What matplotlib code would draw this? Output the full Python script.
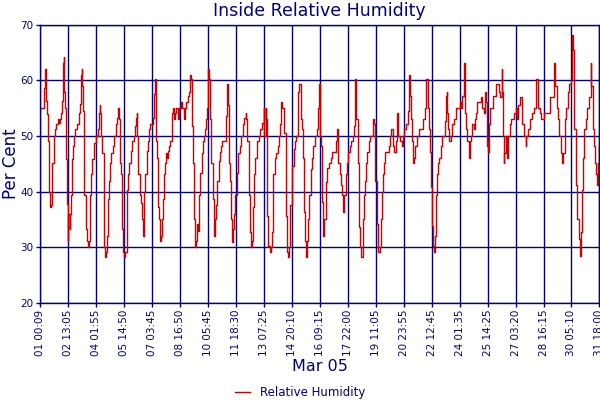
# plot.py
# Inside Relative Humidity, March 05 (per cent), one line against day-of-month
# ─────────────────────────────────────────────────────────────

import matplotlib
matplotlib.use("Agg")
import matplotlib.pyplot as plt

# ─────────────────────────────────────────────────────────────
# DATA  (day of month as fraction, humidity in %)
# ─────────────────────────────────────────────────────────────
days = [
    1.01, 1.02, 1.17, 1.19, 1.23, 1.26, 1.30, 1.34, 1.39, 1.43, 1.46, 1.50, 1.56, 1.59, 1.63, 1.68,
    1.74, 1.78, 1.83, 1.90, 1.96, 2.03, 2.05, 2.08, 2.14, 2.20, 2.25, 2.29, 2.32, 2.36, 2.43, 2.47,
    2.53, 2.56, 2.62, 2.67, 2.71, 2.75, 2.80, 2.87, 2.93, 3.02, 3.09, 3.13, 3.19, 3.24, 3.28, 3.31,
    3.37, 3.44, 3.51, 3.57, 3.64, 3.70, 3.73, 3.81, 3.86, 3.94, 3.99, 4.08, 4.19, 4.23, 4.28, 4.32,
    4.36, 4.41, 4.49, 4.52, 4.58, 4.65, 4.70, 4.74, 4.80, 4.85, 4.92, 5.00, 5.07, 5.16, 5.22, 5.29,
    5.33, 5.38, 5.44, 5.51, 5.55, 5.62, 5.68, 5.77, 5.84, 5.91, 5.99, 6.08, 6.15, 6.21, 6.28, 6.32,
    6.35, 6.41, 6.48, 6.54, 6.59, 6.68, 6.72, 6.79, 6.87,
    6.92, 6.95, 6.97, 7.03, 7.16, 7.19, 7.27, 7.32, 7.36, 7.39, 7.45, 7.50, 7.56, 7.60, 7.65, 7.69,
    7.72, 7.76, 7.81, 7.89, 7.92, 7.98, 8.03, 8.11, 8.16, 8.24, 8.29, 8.36, 8.42, 8.49, 8.60, 8.66,
    8.73, 8.80, 8.91, 8.99, 9.04, 9.13, 9.19, 9.26, 9.30, 9.34, 9.39, 9.43, 9.48, 9.52, 9.57, 9.61,
    9.68, 9.74, 9.81, 9.88, 9.96, 10.01, 10.09, 10.14, 10.18, 10.25, 10.29, 10.32, 10.36, 10.42,
    10.49, 10.54, 10.58, 10.63, 10.69, 10.74, 10.82, 10.87, 10.95, 11.02, 11.20, 11.22, 11.28,
    11.33, 11.39, 11.44, 11.50, 11.55, 11.61, 11.66, 11.73, 11.81, 11.90, 11.97, 12.04, 12.15,
    12.23, 12.30, 12.34, 12.39, 12.47, 12.54, 12.61, 12.65, 12.69, 12.72, 12.78,
    12.82, 12.90, 12.95, 13.01, 13.10, 13.19, 13.29, 13.32, 13.40, 13.41, 13.45, 13.54, 13.62,
    13.67, 13.73, 13.82, 13.89, 13.97, 14.06, 14.13, 14.21, 14.26, 14.32, 14.39, 14.43, 14.50,
    14.58, 14.63, 14.71, 14.76, 14.84, 14.95, 15.04, 15.08, 15.20, 15.26, 15.32, 15.39, 15.44,
    15.50, 15.55, 15.61, 15.67, 15.74, 15.81, 15.89, 15.96, 16.03, 16.11, 16.24, 16.29, 16.33,
    16.40, 16.44, 16.48, 16.55, 16.57, 16.63, 16.70, 16.77, 16.88, 16.98, 17.07, 17.25, 17.31,
    17.36, 17.40, 17.47, 17.55, 17.58, 17.66, 17.71, 17.81, 17.88, 17.95, 18.03, 18.10, 18.18,
    18.25, 18.34, 18.38, 18.47, 18.54, 18.58, 18.65,
    18.73, 18.77, 18.82, 18.88, 18.91, 18.99, 19.08, 19.15, 19.26, 19.30, 19.35, 19.39, 19.41,
    19.44, 19.50, 19.57, 19.70, 19.74, 19.81, 19.86, 19.92, 19.99, 20.17, 20.23, 20.27, 20.34,
    20.39, 20.47, 20.54, 20.61, 20.65, 20.70, 20.80, 20.91, 20.96, 21.03, 21.09, 21.22, 21.27,
    21.36, 21.40, 21.44, 21.49, 21.54, 21.62, 21.71, 21.82, 22.04, 22.18, 22.24, 22.35, 22.40,
    22.44, 22.48, 22.53, 22.59, 22.64, 22.71, 22.77, 22.82, 22.90, 22.95, 23.02, 23.10, 23.23,
    23.28, 23.30, 23.35, 23.39, 23.43, 23.46, 23.57, 23.65, 23.76, 23.88, 24.07, 24.12, 24.21,
    24.30, 24.38, 24.43, 24.49, 24.56,
    24.59, 24.65, 24.70, 24.76, 24.83, 24.89, 24.94, 25.02, 25.20, 25.25, 25.31, 25.38, 25.47,
    25.51, 25.55, 25.60, 25.64, 25.69, 25.75, 25.88, 26.04, 26.24, 26.30, 26.37, 26.41, 26.44,
    26.48, 26.53, 26.59, 26.66, 26.75, 26.81, 26.88, 27.03, 27.16, 27.21, 27.30, 27.41, 27.49,
    27.58, 27.69, 27.74, 27.83, 27.91, 28.02, 28.18, 28.29, 28.36, 28.46, 28.55, 28.68, 28.95,
    29.01, 29.21, 29.28, 29.33, 29.41, 29.48, 29.55, 29.65, 29.72, 29.77, 29.85, 29.92, 30.01,
    30.10, 30.18, 30.25, 30.30, 30.38, 30.45, 30.52, 30.62, 30.69, 30.74, 30.80, 30.85, 30.93,
    31.00, 31.09, 31.20, 31.27, 31.31, 31.38, 31.44, 31.51, 31.59, 31.64, 31.70, 31.75,
]

humidity = [
    54.5, 55, 55, 56.3, 58.7, 62, 60.2, 56.3, 54, 52, 49.1, 39.9, 37.2, 37.5, 40.2, 45.2,
    48.2, 50, 51.2, 52.1, 53.1, 53.1, 52.3, 53.1, 54.2, 56.3, 63.1, 64.2, 58, 55.1, 45.8, 37.8,
    31.2, 36, 33.3, 36, 39.3, 45.8, 48.2, 50, 51.2, 52.1, 52.1, 54.2, 55.7, 61, 62, 59,
    54.5, 39.3, 33.3, 31.2, 30, 31.2, 39.3, 43.1, 45.8, 47.3, 48.8, 50, 51.2, 54.2, 55.5, 54.2,
    50, 47, 36.3, 30, 28.2, 29.1, 32.1, 38.7, 41.9, 45.2, 47, 48.2, 50, 52.1, 53.3, 55.1,
    53, 45.2, 43.1, 33.3, 29.1, 28.2, 29.1, 40.2, 43.1, 45.2, 47.3, 49.1, 50, 51.8, 53.3, 54.2,
    50, 43.1, 39.3, 38, 35.1, 32.1, 39.9, 43.1, 47.3,
    49.1, 49.1, 51.2, 52.1, 52.1, 53.3, 57.6, 60.2, 54.2, 49.1, 46.1, 37.2, 35.1, 31.2, 32.1, 33.3,
    35.1, 38.7, 43.1, 45.2, 47.0, 46.1, 47.3, 48.2, 49.1, 54.2, 55.1, 53.1, 54.2, 55.1, 53.1, 55.1,
    56.1, 55.1, 53.1, 55.1, 56.1, 57.2, 58.0, 61.0, 60.2, 51.8, 51.2, 45.2, 35.1, 30.0, 31.2, 34.2,
    33.0, 39.3, 43.4, 47.0, 49.1, 50.0, 51.2, 53.1, 55.1, 62.0, 60.2, 57.8, 53.0, 45.2,
    38.7, 33.3, 32.1, 35.1, 37.5, 41.9, 45.5, 47.2, 48.2, 49.1, 49.1, 53.6, 59.3,
    55.5, 45.2, 41.9, 35.1, 31.0, 33.3, 36.0, 39.3, 43.4, 47.0, 48.2, 50.0, 52.1,
    53.3, 54.2, 53.0, 49.1, 39.3, 32.7, 30.0, 31.2, 34.2, 37.2, 43.1,
    46.1, 48.2, 49.1, 50.0, 51.2, 52.4, 55.1, 50.0, 55.1, 53.0, 35.6, 30.3, 29.1,
    30.0, 32.7, 43.1, 46.1, 47.0, 48.2, 50.0, 52.1, 56.1, 55.1, 54.2, 50.6, 35.7,
    29.1, 28.2, 30.0, 37.5, 44.6, 47.6, 49.1, 50.0, 58.0, 59.3, 53.0, 51.2, 46.1,
    36.3, 31.2, 28.2, 31.2, 35.1, 39.3, 44.0, 46.1, 48.2, 50.0, 51.2, 55.1, 59.3,
    50.0, 48.2, 38.1, 35.1, 32.1, 35.1, 41.7, 44.2, 45.2, 46.1, 47.1, 49.1, 51.2,
    49.1, 45.2, 43.1, 41.1, 39.3, 36.3, 39.3, 43.1, 45.2, 47.1, 48.2, 49.1, 50.0,
    51.8, 60.2, 53.0, 45.2, 33.6, 30.0, 28.2,
    30.0, 35.1, 39.3, 41.9, 45.2, 47.1, 49.1, 50.0, 50.0, 53.1, 52.1, 50.0, 47.3,
    41.9, 34.2, 29.1, 30.0, 35.1, 39.9, 43.1, 45.2, 47.1, 48.2, 50.0, 51.2, 51.2,
    48.2, 47.1, 49.1, 54.2, 51.2, 50.0, 49.1, 48.2, 50.0, 51.2, 52.1, 54.5, 61.0,
    57.2, 53.0, 49.1, 45.2, 46.1, 48.2, 50.0, 51.2, 53.1, 55.1, 60.2, 55.1, 51.2,
    47.1, 40.8, 33.9, 30.3, 29.1, 32.1, 39.3, 43.1, 45.2, 46.1, 48.2, 50.0, 50.0,
    52.7, 57.2, 58.0, 54.2, 51.2, 49.1, 50.0, 52.1, 53.1, 55.1, 56.1, 55.1, 57.2,
    63.1, 54.2, 51.2, 49.1, 46.1,
    46.1, 49.1, 50.0, 52.1, 51.2, 53.1, 54.2, 56.1, 56.1, 57.1, 55.1, 54.2, 58.0,
    56.1, 48.2, 49.1, 47.1, 52.1, 55.1, 57.2, 59.3, 58.0, 57.1, 62.0, 58.0, 50.0,
    45.2, 47.0, 50.0, 46.1, 50.0, 52.1, 53.1, 54.2, 55.1, 53.1, 55.5, 57.1, 52.1,
    50.0, 48.2, 50.0, 51.2, 53.1, 54.2, 55.1, 60.2, 55.1, 54.2, 53.1, 54.2, 54.2,
    57.1, 57.1, 63.1, 59.0, 55.1, 53.0, 50.0, 47.0, 45.2, 47.0, 53.1, 55.1, 58.0,
    59.3, 60.2, 68.2, 65.5, 51.2, 41.1, 35.1, 31.5, 28.5, 32.7, 40.2, 46.1, 51.2,
    53.1, 55.1, 57.1, 63.1, 59.0, 51.2, 48.2, 45.2, 43.1, 41.1, 45.2, 48.2,
]

tick_labels = ["01 00:09", "02 13:05", "04 01:55", "05 14:50", "07 03:45", "08 16:50",
               "10 05:45", "11 18:30", "13 07:25", "14 20:10", "16 09:15", "17 22:00",
               "19 11:05", "20 23:55", "22 12:45", "24 01:35", "25 14:25", "27 03:20",
               "28 16:15", "30 05:10", "31 18:00"]

y_ticks = [20, 30, 40, 50, 60, 70]

# tick positions straight from the "DD HH:MM" labels
tick_pos = []
for lab in tick_labels:
    d, hm = lab.split()
    h, m = hm.split(":")
    tick_pos.append(int(d) + int(h) / 24 + int(m) / 1440)

NAVY = "#000080"
RED = "#CC0000"

# ─────────────────────────────────────────────────────────────
# PLOT
# ─────────────────────────────────────────────────────────────
fig = plt.figure(figsize=(6, 4), dpi=100)
ax = fig.add_axes([0.067, 0.243, 0.932, 0.695])

ax.plot(days, humidity, color=RED, linewidth=1.0, drawstyle="steps-post",
        label="Relative Humidity")

ax.set_xlim(tick_pos[0], tick_pos[-1])
ax.set_ylim(20, 70)
ax.set_xticks(tick_pos)
ax.set_xticklabels(tick_labels, rotation=90, fontsize=7.5, color=NAVY)
ax.set_yticks(y_ticks)
ax.set_yticklabels([str(v) for v in y_ticks], fontsize=7.5, color=NAVY)
ax.tick_params(colors=NAVY, length=3, width=1, pad=2)

ax.grid(True, color=NAVY, linewidth=1)
ax.set_axisbelow(True)
for sp in ax.spines.values():
    sp.set_color(NAVY)
    sp.set_linewidth(1)

ax.set_title("Inside Relative Humidity", fontsize=12.5, color=NAVY, pad=6)
ax.set_ylabel("Per Cent", fontsize=12, color=NAVY)
ax.yaxis.set_label_coords(-0.036, 0.5)
ax.set_xlabel("Mar 05", fontsize=11.5, color=NAVY, va="top")
ax.xaxis.set_label_coords(0.5, -0.203)

fig.legend(loc="lower center", bbox_to_anchor=(0.5, -0.025), frameon=False,
           fontsize=8.5, handlelength=1.3, labelcolor=NAVY)

fig.savefig("out.png", dpi=100)
